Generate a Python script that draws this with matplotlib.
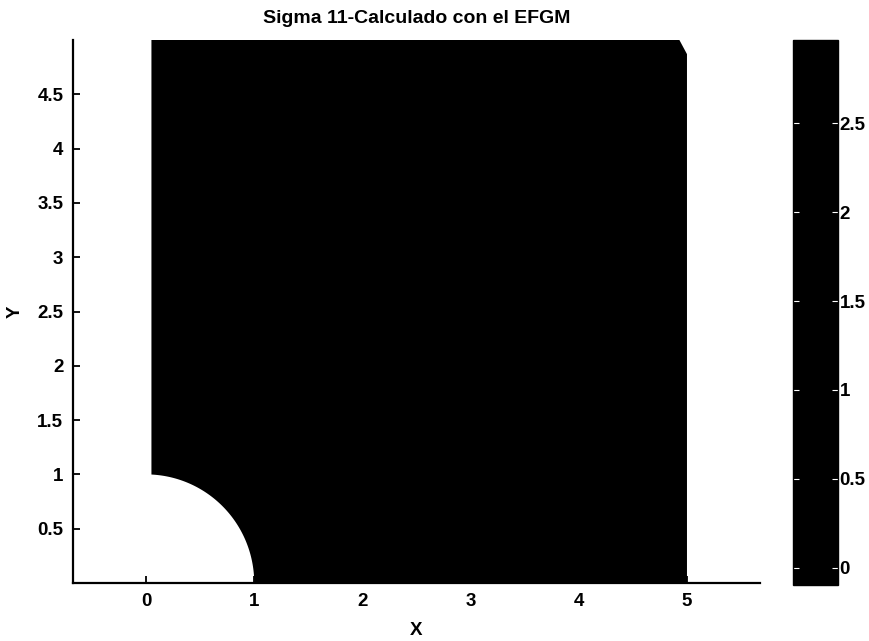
import numpy as np
import matplotlib
matplotlib.use("Agg")
import matplotlib.pyplot as plt
from matplotlib.colors import ListedColormap, Normalize
from matplotlib.cm import ScalarMappable

# ---- data ----
title = "Sigma 11-Calculado con el EFGM"
hole_radius = 1.0
plate_x_left = 0.05
plate_x_right = 5.0
plate_y_top = 5.0
corner_cut = (0.07, 0.13)
x_ticks = [0, 1, 2, 3, 4, 5]
y_ticks = [0.5, 1, 1.5, 2, 2.5, 3, 3.5, 4, 4.5]
cbar_ticks = [0, 0.5, 1, 1.5, 2, 2.5]
cbar_limits = (-0.096, 2.967)
x_limits = (-0.675, 5.675)
y_limits = (0.0, 5.0)

plt.rcParams['font.family'] = ['Liberation Sans', 'DejaVu Sans']
plt.rcParams['font.weight'] = 'bold'
plt.rcParams['axes.titleweight'] = 'bold'
plt.rcParams['axes.labelweight'] = 'bold'

fig = plt.figure(figsize=(8.7, 6.41), dpi=100)
ax = fig.add_axes([73/870, 58/641, 687/870, 543/641])
cax = fig.add_axes([793/870, 56/641, 45/870, 545/641])

# domain outline: plate with quarter hole
th0 = np.arccos(plate_x_left / hole_radius)
th = np.linspace(th0, 0, 80)
xs = [plate_x_left, plate_x_left]
ys = [plate_y_top, hole_radius * np.sin(th0)]
xs += list(hole_radius * np.cos(th))
ys += list(hole_radius * np.sin(th))
xs += [plate_x_right, plate_x_right, plate_x_right - corner_cut[0]]
ys += [0.0, plate_y_top - corner_cut[1], plate_y_top]

cmap = ListedColormap(['black'])
norm = Normalize(*cbar_limits)
ax.fill(xs, ys, color=cmap(0), lw=0, zorder=1)

ax.set_xlim(*x_limits)
ax.set_ylim(*y_limits)
ax.set_xticks(x_ticks)
ax.set_yticks(y_ticks)
ax.set_xticklabels([str(v) for v in x_ticks])
ax.set_yticklabels([('%g' % v) for v in y_ticks])
ax.tick_params(direction='in', length=5, width=1.3, labelsize=13.5, pad=7)
for s in ['top', 'right']:
    ax.spines[s].set_visible(False)
for s in ['left', 'bottom']:
    ax.spines[s].set_linewidth(1.6)
ax.set_xlabel('X', fontsize=13.5, fontweight='bold', labelpad=9)
ax.set_ylabel('Y', fontsize=13.5, fontweight='bold', labelpad=10)
ax.set_title(title, fontsize=14, fontweight='bold', pad=12)

sm = ScalarMappable(norm=norm, cmap=cmap)
cb = fig.colorbar(sm, cax=cax)
cb.set_ticks(cbar_ticks)
cb.set_ticklabels([('%g' % v) for v in cbar_ticks])
cb.outline.set_linewidth(1.0)
cax.tick_params(direction='in', length=4, color='white', labelsize=13.5, pad=1,
                left=True, right=True)

fig.savefig('out.png', dpi=100)
